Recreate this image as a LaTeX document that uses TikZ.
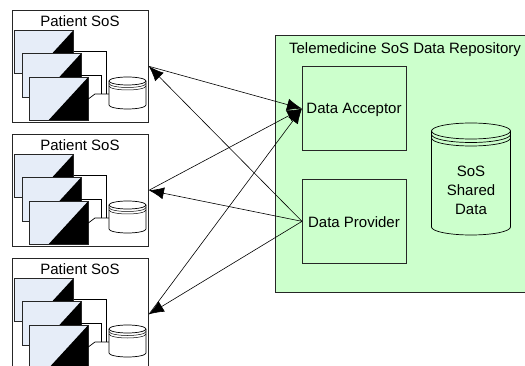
\documentclass[tikz,border=0pt]{standalone}
\usepackage{fontspec}
\setmainfont{Liberation Sans}
\usetikzlibrary{arrows.meta}
\definecolor{repogreen}{HTML}{CCFFCC}
\definecolor{winblue}{HTML}{E6EDF8}
\tikzset{
  every picture/.style={x=1pt,y=-1pt},
  label text/.style={font=\fontsize{15}{17}\selectfont,align=center,inner sep=0pt},
  box/.style={draw=black!85,line width=0.7pt,rectangle,anchor=north west,inner sep=0pt},
  patientbox/.style={box,fill=white,minimum width=136.5pt,minimum height=112.5pt},
  acceptbox/.style={box,minimum width=104pt,minimum height=84pt},
  link/.style={draw=black,line width=0.6pt,-{Latex[length=15pt,width=12pt]}},
  cyl/.style={draw=black,line width=0.7pt},
  wire/.style={draw=black,line width=0.7pt},
}
\newcommand{\windowbox}[2]{%
  \fill[winblue] (#1,#2) rectangle +(59,43.5);
  \fill[black] (#1+59,#2) -- (#1+59,#2+43.5) -- (#1+19,#2+43.5) -- cycle;
  \draw[black!85,line width=0.7pt] (#1,#2) rectangle +(59,43.5);
}
\newcommand{\patient}[2]{%
  \node[patientbox] (#1) at (11.7,#2+9.7) {};
  \node[label text] (#1t) at (80,#2+21) {Patient SoS};
  \windowbox{14.7}{#2+30}
  \draw[wire] (73.7,#2+51.5) -- (106,#2+51.5) -- (106,#2+94);
  \windowbox{22}{#2+53.5}
  \draw[wire] (81,#2+75) -- (101,#2+75) -- (101,#2+94);
  \windowbox{29.3}{#2+77}
  \draw[wire] (88.3,#2+99) -- (95,#2+94) -- (109,#2+94);
  \begin{scope}[shift={(127.5,#2+81)}]
    \draw[cyl,fill=white] (-18.5,0) -- (-18.5,24) arc[start angle=180,end angle=0,x radius=18.5,y radius=4] -- (18.5,0);
    \draw[cyl,fill=white] (0,0) ellipse[x radius=18.5,y radius=4];
    \draw[black,line width=0.5pt] (-18.5,2.5) arc[start angle=180,end angle=0,x radius=18.5,y radius=4];
    \draw[black,line width=0.5pt] (-18.5,5) arc[start angle=180,end angle=0,x radius=18.5,y radius=4];
  \end{scope}
}
\begin{document}
\begin{tikzpicture}
\clip (0,0) rectangle (525,366);
\fill[white] (0,0) rectangle (525,366);
\patient{p1}{0}
\patient{p2}{124}
\patient{p3}{248}
\node[box,fill=repogreen,minimum width=270pt,minimum height=257pt] (repo) at (274.5,35) {};
\node[label text] (repot) at (405,49.5) {Telemedicine SoS Data Repository};
\node[acceptbox] (acc) at (302,66.3) {};
\node[label text] (acct) at (354,109.5) {Data Acceptor};
\node[acceptbox] (prov) at (302,179) {};
\node[label text] (provt) at (354,222.5) {Data Provider};
\begin{scope}[shift={(471,131)}]
  \draw[cyl] (-39.5,0) -- (-39.5,96) arc[start angle=180,end angle=0,x radius=39.5,y radius=8] -- (39.5,0);
  \draw[cyl] (0,0) ellipse[x radius=39.5,y radius=8];
  \draw[cyl] (-39.5,3.5) arc[start angle=180,end angle=0,x radius=39.5,y radius=8];
  \draw[cyl] (-39.5,7) arc[start angle=180,end angle=0,x radius=39.5,y radius=8];
\end{scope}
\node[label text] (shared) at (471,190) {SoS\\[2pt]Shared\\[2pt]Data};
\draw[link] (p1.east) -- (acc.west);
\draw[link] (p2.east) -- (acc.west);
\draw[link] (p3.east) -- (acc.west);
\draw[link] (prov.west) -- (p1.east);
\draw[link] (prov.west) -- (p2.east);
\draw[link] (prov.west) -- (p3.east);
\end{tikzpicture}
\end{document}
